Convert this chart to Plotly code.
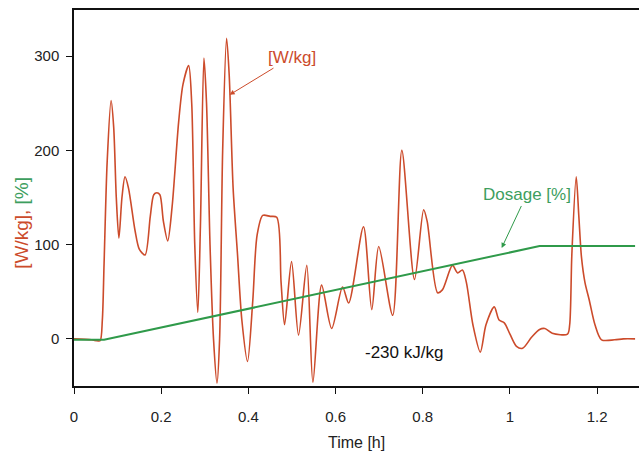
import plotly.graph_objects as go

# Power curve [W/kg] vs time [h]
time_h = [0.0, 0.04, 0.053, 0.060, 0.065, 0.069, 0.076, 0.085, 0.091, 0.097, 0.103, 0.110, 0.117,
          0.125, 0.140, 0.150, 0.163, 0.175, 0.183, 0.190, 0.197, 0.205, 0.215, 0.225, 0.240,
          0.250, 0.263, 0.270, 0.277, 0.284, 0.290, 0.298, 0.304, 0.312, 0.320, 0.328, 0.334,
          0.341, 0.350, 0.356, 0.365, 0.375, 0.385, 0.398, 0.410, 0.420, 0.433, 0.450, 0.465,
          0.475, 0.483, 0.499, 0.515, 0.534, 0.548, 0.568, 0.591, 0.616, 0.630, 0.664, 0.683,
          0.699, 0.731, 0.752, 0.781, 0.802, 0.810, 0.834, 0.845, 0.868, 0.880, 0.891, 0.900,
          0.915, 0.932, 0.945, 0.964, 0.975, 0.987, 1.000, 1.015, 1.029, 1.050, 1.068, 1.080,
          1.097, 1.132, 1.137, 1.142, 1.152, 1.158, 1.164, 1.172, 1.182, 1.195, 1.210, 1.240,
          1.260, 1.287]
power_wkg = [0, -1, -2, -2, 20, 80, 187, 253, 225, 150, 107, 150, 172,
             160, 115, 95, 89, 130, 153, 155, 153, 125, 104, 140, 230,
             270, 290, 250, 100, 28, 120, 298, 250, 100, 0, -47, 0,
             200, 319, 280, 160, 90, 20, -24, 40, 110, 131, 130, 129,
             60, 15, 82, 4, 78, -46, 57, 11, 55, 38, 119, 31,
             98, 25, 200, 63, 137, 125, 49, 52, 78, 70, 73, 60,
             15, -14, 15, 34, 20, 17, 5, -8, -10, 2, 10, 11,
             6, 5, 15, 90, 172, 130, 87, 60, 41, 15, -1, -1,
             0, 0]

# Dosage [%]
dose_time = [0.0, 0.069, 1.068, 1.287]
dose_pct = [-1, -1, 98.5, 98.5]

x_ticks = [0, 0.2, 0.4, 0.6, 0.8, 1.0, 1.2]
x_tick_text = ["0", "0.2", "0.4", "0.6", "0.8", "1", "1.2"]
y_ticks = [0, 100, 200, 300]

RED = "#cc4b2b"
GREEN = "#2f9a4a"
GREEN_TXT = "#3d9e5e"
FONT = "Liberation Sans, Arial, sans-serif"

fig = go.Figure()
fig.add_trace(go.Scatter(x=time_h, y=power_wkg, mode="lines",
                         line=dict(color=RED, width=1.6, shape="spline", smoothing=0.8),
                         showlegend=False))
fig.add_trace(go.Scatter(x=dose_time, y=dose_pct, mode="lines",
                         line=dict(color=GREEN, width=2), showlegend=False))

fig.update_layout(
    width=639, height=453,
    margin=dict(l=74, r=0, t=10, b=67),
    paper_bgcolor="white", plot_bgcolor="white",
    font=dict(family=FONT, size=15, color="#222"),
    xaxis=dict(range=[0, 1.296], tickvals=x_ticks, ticktext=x_tick_text,
               showgrid=False, zeroline=False, showline=True, linecolor="#111",
               linewidth=1.5, mirror=True, ticks="outside", ticklen=6,
               tickcolor="#111", ticklabelstandoff=10),
    yaxis=dict(range=[-50, 349], tickvals=y_ticks, showgrid=False, zeroline=False,
               showline=True, linecolor="#111", linewidth=1.5, ticks="outside",
               ticklen=6, tickcolor="#111", ticklabelstandoff=4),
)

fig.add_annotation(x=0.357, y=259, ax=0.499, ay=299, axref="x", ayref="y",
                   text="[W/kg]", font=dict(color=RED, size=17),
                   showarrow=True, arrowhead=2, arrowsize=1, arrowwidth=1,
                   arrowcolor=RED)
fig.add_annotation(x=0.981, y=96.5, ax=1.038, ay=152.7, axref="x", ayref="y",
                   text="Dosage [%]", font=dict(color=GREEN_TXT, size=17),
                   showarrow=True, arrowhead=2, arrowsize=1, arrowwidth=1,
                   arrowcolor=GREEN)
fig.add_annotation(x=0.758, y=-14, text="-230 kJ/kg", showarrow=False,
                   font=dict(color="#111", size=17))
fig.add_annotation(xref="paper", yref="paper", x=0.50, y=-0.149,
                   xanchor="center", yanchor="middle",
                   text="Time [h]", showarrow=False, font=dict(size=16, color="#222"))
fig.add_annotation(xref="paper", yref="paper", x=-0.092, y=0.434, textangle=-90,
                   xanchor="center", yanchor="middle",
                   text=f"<span style='color:{RED}'>[W/kg],</span> "
                        f"<span style='color:{GREEN_TXT}'>[%]</span>",
                   showarrow=False, font=dict(size=19))

fig.write_html("out.html", config={"displayModeBar": False},
               post_script="document.body.style.margin='0';")
